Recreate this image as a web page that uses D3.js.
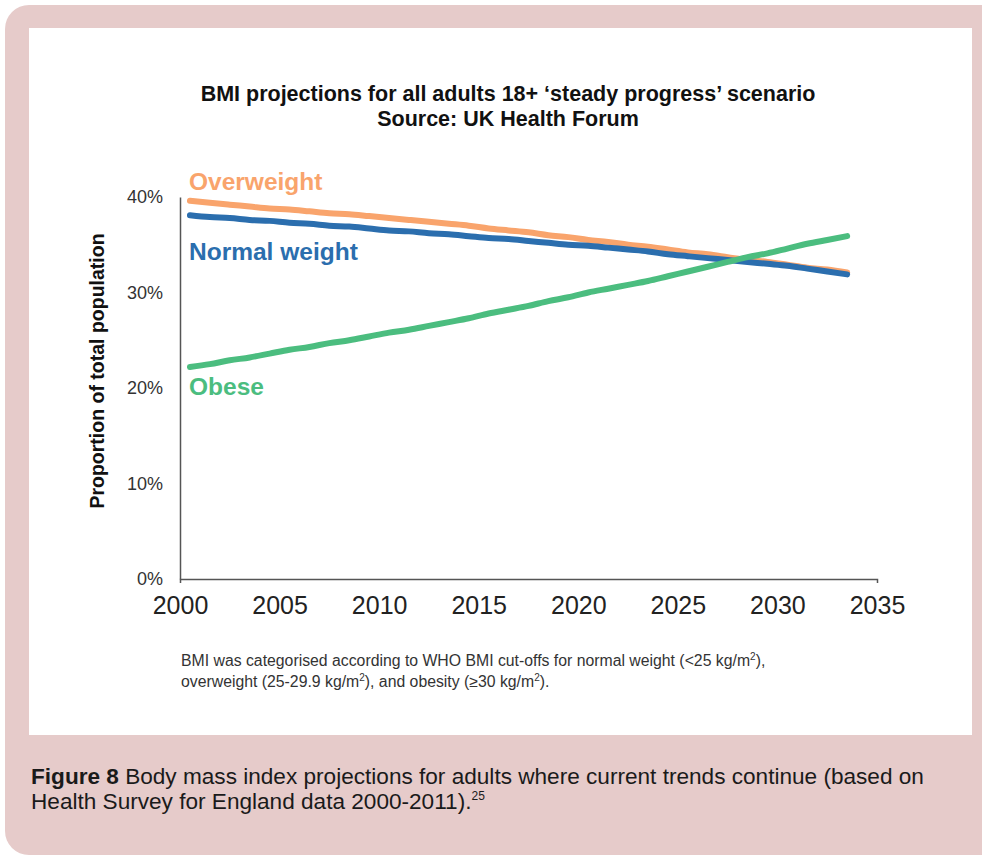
<!DOCTYPE html>
<html>
<head>
<meta charset="utf-8">
<script src="https://cdn.jsdelivr.net/npm/d3@7/dist/d3.min.js"></script>
<style>
  html, body { margin: 0; padding: 0; background: #ffffff; }
  svg { display: block; }
  text { font-family: "Liberation Sans", Arial, Helvetica, sans-serif; }
</style>
</head>
<body>
<svg id="chart" width="982" height="856"></svg>
<script>
// ---- Data ----
const years = [2000, 2001, 2002, 2003, 2004, 2005, 2006, 2007, 2008, 2009,
               2010, 2011, 2012, 2013, 2014, 2015, 2016, 2017, 2018, 2019,
               2020, 2021, 2022, 2023, 2024, 2025, 2026, 2027, 2028, 2029,
               2030, 2031, 2032, 2033];
const overweight = [39.6, 39.4, 39.2, 39.0, 38.8, 38.7, 38.5, 38.3, 38.2, 38.0,
                    37.8, 37.6, 37.4, 37.2, 37.0, 36.7, 36.5, 36.3, 36.0, 35.8,
                    35.5, 35.3, 35.0, 34.8, 34.5, 34.2, 34.0, 33.7, 33.4, 33.2,
                    32.9, 32.6, 32.4, 32.1];
const normalWeight = [38.1, 37.9, 37.8, 37.6, 37.5, 37.3, 37.2, 37.0, 36.9, 36.7,
                      36.5, 36.4, 36.2, 36.1, 35.9, 35.7, 35.6, 35.4, 35.2, 35.0,
                      34.9, 34.7, 34.5, 34.3, 34.0, 33.8, 33.6, 33.4, 33.2, 33.0,
                      32.8, 32.5, 32.2, 31.9];
const obese = [22.2, 22.5, 22.9, 23.2, 23.6, 24.0, 24.3, 24.7, 25.0, 25.4,
               25.8, 26.1, 26.5, 26.9, 27.3, 27.8, 28.2, 28.6, 29.1, 29.5,
               30.0, 30.4, 30.8, 31.2, 31.7, 32.2, 32.7, 33.2, 33.7, 34.1,
               34.6, 35.1, 35.5, 35.9];
const seriesNames = ["Overweight", "Normal weight", "Obese"];
const xTicks = [2000, 2005, 2010, 2015, 2020, 2025, 2030, 2035];
const yTicks = [0, 10, 20, 30, 40];

const titleLines = ["BMI projections for all adults 18+ \u2018steady progress\u2019 scenario",
                    "Source: UK Health Forum"];
const yAxisTitle = "Proportion of total population";

// ---- Layout ----
const svg = d3.select("#chart");
const colors = { "Overweight": "#f9a46c", "Normal weight": "#2b6eae", "Obese": "#4bbd7f" };

// Frame
svg.append("rect").attr("x", 5).attr("y", 5).attr("width", 1010).attr("height", 850)
  .attr("rx", 24).attr("ry", 24).attr("fill", "#e6cbca");
svg.append("rect").attr("x", 29).attr("y", 28).attr("width", 943).attr("height", 707)
  .attr("fill", "#ffffff");

const x = d3.scaleLinear().domain([2000, 2035]).range([180, 877]);
const y = d3.scaleLinear().domain([0, 40]).range([579, 197]);

// Title
svg.append("g").selectAll("text").data(titleLines).join("text")
  .attr("x", 508).attr("y", (d, i) => 101 + i * 25)
  .attr("text-anchor", "middle").attr("font-weight", "bold")
  .attr("font-size", 21.5).attr("fill", "#111").text(d => d);

// Y axis
const yAxis = svg.append("g").attr("transform", "translate(180,0)")
  .call(d3.axisLeft(y).tickValues(yTicks).tickSize(0).tickPadding(17)
        .tickFormat(d => d + "%"));
yAxis.select(".domain").attr("stroke", "#555").attr("stroke-width", 1.5);
yAxis.selectAll("text").attr("font-size", 18).attr("fill", "#333")
  .attr("font-family", "Liberation Sans, Arial, sans-serif");

// X axis
const xAxis = svg.append("g").attr("transform", "translate(0,579)")
  .call(d3.axisBottom(x).tickValues(xTicks).tickSizeInner(0).tickSizeOuter(4)
        .tickPadding(17).tickFormat(d3.format("d")));
xAxis.select(".domain").attr("stroke", "#555").attr("stroke-width", 1.5);
xAxis.selectAll("text").attr("font-size", 25).attr("fill", "#222")
  .attr("font-family", "Liberation Sans, Arial, sans-serif");

// Y axis title
svg.append("text")
  .attr("transform", "translate(104,371) rotate(-90)")
  .attr("text-anchor", "middle").attr("font-weight", "bold")
  .attr("font-size", 19.5).attr("fill", "#111").text(yAxisTitle);

// Lines
const seriesData = [
  { name: "Overweight", values: overweight },
  { name: "Normal weight", values: normalWeight },
  { name: "Obese", values: obese }
];
const line = d3.line()
  .x((d, i) => x(years[i] + 0.5))
  .y(d => y(d))
  .curve(d3.curveMonotoneX);

svg.append("g").selectAll("path").data(seriesData).join("path")
  .attr("d", d => line(d.values))
  .attr("fill", "none")
  .attr("stroke", d => colors[d.name])
  .attr("stroke-width", 6)
  .attr("stroke-linecap", "round")
  .attr("stroke-linejoin", "round");

// Series labels
const labelY = { "Overweight": 190, "Normal weight": 260, "Obese": 395 };
svg.append("g").selectAll("text").data(seriesNames).join("text")
  .attr("x", 189).attr("y", d => labelY[d])
  .attr("font-weight", "bold").attr("font-size", 24.5)
  .attr("fill", d => colors[d]).text(d => d);

// Footnote
const foot = svg.append("text").attr("font-size", 15.8).attr("fill", "#333");
const f1 = foot.append("tspan").attr("x", 181).attr("y", 666);
f1.append("tspan").text("BMI was categorised according to WHO BMI cut-offs for normal weight (<25 kg/m");
f1.append("tspan").attr("font-size", 10).attr("dy", -6).text("2");
f1.append("tspan").attr("dy", 6).text("),");
const f2 = foot.append("tspan").attr("x", 181).attr("y", 687);
f2.append("tspan").text("overweight (25-29.9 kg/m");
f2.append("tspan").attr("font-size", 10).attr("dy", -6).text("2");
f2.append("tspan").attr("dy", 6).text("), and obesity (\u226530 kg/m");
f2.append("tspan").attr("font-size", 10).attr("dy", -6).text("2");
f2.append("tspan").attr("dy", 6).text(").");

// Caption
const cap = svg.append("text").attr("font-size", 22.6).attr("fill", "#1a1a1a");
const c1 = cap.append("tspan").attr("x", 31).attr("y", 784);
c1.append("tspan").attr("font-weight", "bold").text("Figure 8");
c1.append("tspan").text(" Body mass index projections for adults where current trends continue (based on");
const c2 = cap.append("tspan").attr("x", 31).attr("y", 809);
c2.append("tspan").text("Health Survey for England data 2000-2011).");
c2.append("tspan").attr("font-size", 12).attr("dy", -9).text("25");
</script>
</body>
</html>
